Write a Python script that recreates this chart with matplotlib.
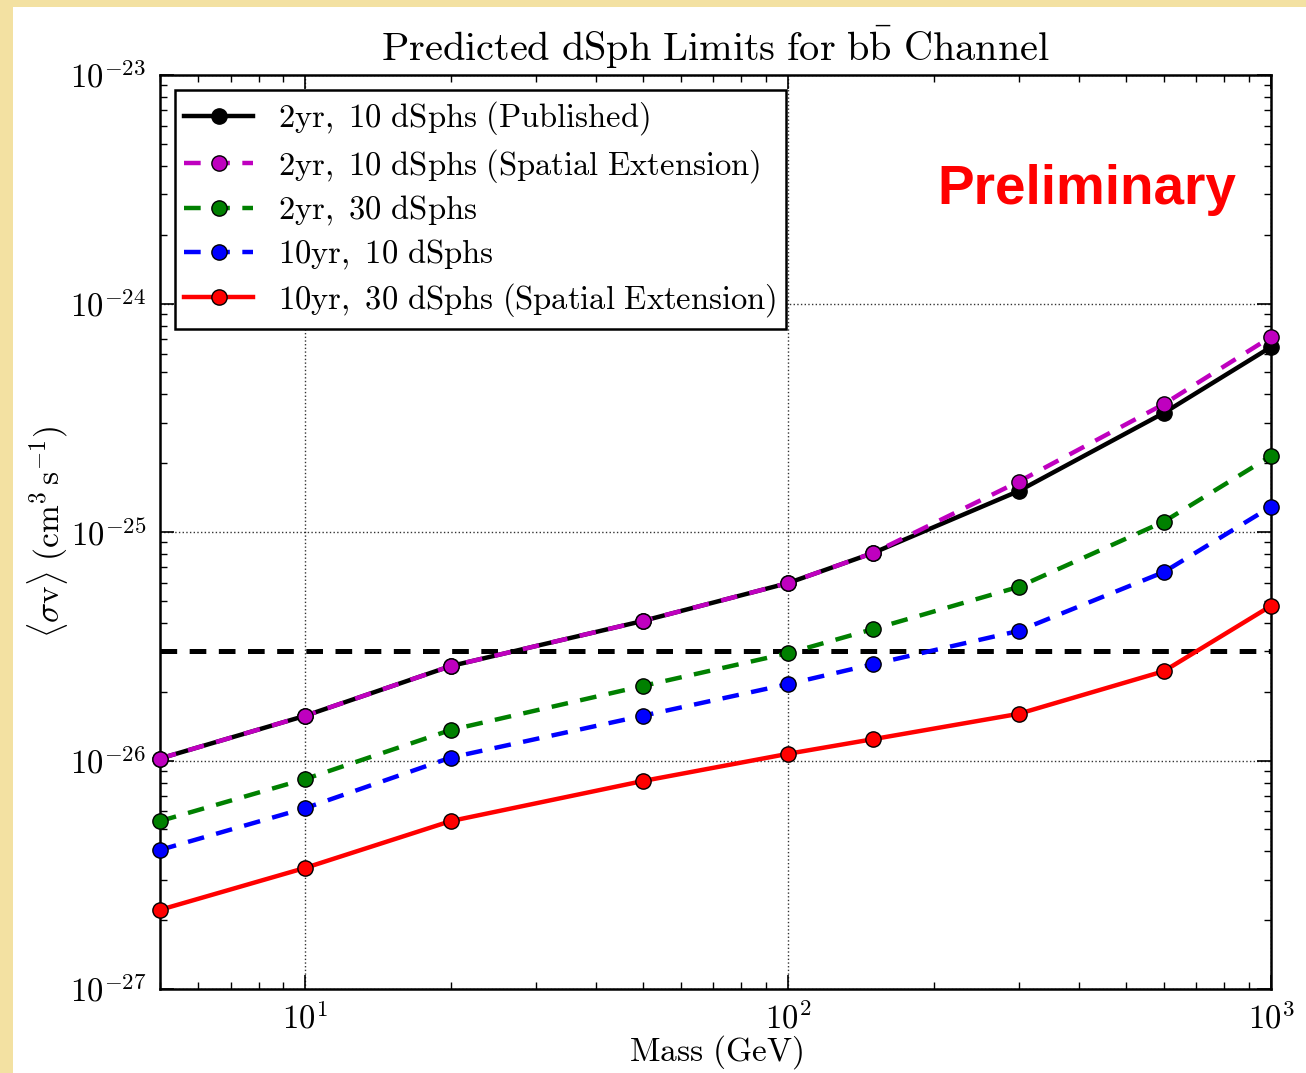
import math
import matplotlib
matplotlib.use("Agg")
import matplotlib.pyplot as plt
from matplotlib.patches import Rectangle
from matplotlib.ticker import LogLocator, FixedLocator, FuncFormatter, NullFormatter

plt.rcParams['mathtext.fontset'] = 'cm'
plt.rcParams['lines.scale_dashes'] = False

# Dark matter mass (GeV)
mass = [5, 10, 20, 50, 100, 150, 300, 600, 1000]

# Predicted <sigma v> upper limits (cm^3 s^-1)
published_2yr_10 = [1.02e-26, 1.57e-26, 2.59e-26, 4.08e-26, 5.98e-26, 8.1e-26, 1.51e-25, 3.32e-25, 6.45e-25]
spatial_2yr_10 = [1.02e-26, 1.57e-26, 2.59e-26, 4.08e-26, 5.98e-26, 8.1e-26, 1.66e-25, 3.63e-25, 7.14e-25]
limits_2yr_30 = [5.43e-27, 8.3e-27, 1.36e-26, 2.12e-26, 2.95e-26, 3.76e-26, 5.75e-26, 1.11e-25, 2.15e-25]
limits_10yr_10 = [4.06e-27, 6.19e-27, 1.03e-26, 1.57e-26, 2.16e-26, 2.64e-26, 3.69e-26, 6.68e-26, 1.29e-25]
spatial_10yr_30 = [2.22e-27, 3.39e-27, 5.43e-27, 8.13e-27, 1.07e-26, 1.24e-26, 1.6e-26, 2.46e-26, 4.75e-26]

thermal_relic = 3e-26

# major tick positions
x_ticks = [10, 100, 1000]
y_ticks = [1e-27, 1e-26, 1e-25, 1e-24, 1e-23]

series = [
    (published_2yr_10, 'k', '-', r'$\mathrm{2yr,\ 10\ dSphs\ (Published)}$'),
    (spatial_2yr_10, 'm', '--', r'$\mathrm{2yr,\ 10\ dSphs\ (Spatial\ Extension)}$'),
    (limits_2yr_30, 'g', '--', r'$\mathrm{2yr,\ 30\ dSphs}$'),
    (limits_10yr_10, 'b', '--', r'$\mathrm{10yr,\ 10\ dSphs}$'),
    (spatial_10yr_30, 'r', '-', r'$\mathrm{10yr,\ 30\ dSphs\ (Spatial\ Extension)}$'),
]

fig = plt.figure(figsize=(13.06, 10.73), dpi=100, facecolor='white')

# parchment border strips
border = '#f3e1a2'
fig.patches.append(Rectangle((0, 0), 13 / 1306, 1, transform=fig.transFigure,
                             facecolor=border, edgecolor='none', zorder=-10))
fig.patches.append(Rectangle((0, 1 - 7 / 1073), 1, 7 / 1073, transform=fig.transFigure,
                             facecolor=border, edgecolor='none', zorder=-10))

ax = fig.add_axes([160 / 1306, 1 - 989 / 1073, (1271 - 160) / 1306, (989 - 75) / 1073])

ax.axhline(thermal_relic, color='k', lw=3.6, dashes=(12, 9), zorder=2)

for vals, col, ls, lab in series:
    kw = dict(dashes=(12, 9)) if ls == '--' else {}
    ax.plot(mass, vals, color=col, lw=3.2, ls=ls, marker='o', markersize=11,
            markerfacecolor=col, markeredgecolor='k', markeredgewidth=1.0,
            label=lab, zorder=3, clip_on=False, **kw)

ax.set_xscale('log')
ax.set_yscale('log')
ax.set_xlim(5, 1000)
ax.set_ylim(1e-27, 1e-23)

fmt = FuncFormatter(lambda v, p: r'$\mathrm{10^{%d}}$' % round(math.log10(v)))
ax.xaxis.set_major_locator(FixedLocator(x_ticks))
ax.yaxis.set_major_locator(FixedLocator(y_ticks))
ax.xaxis.set_minor_locator(LogLocator(base=10, subs=range(2, 10), numticks=20))
ax.yaxis.set_minor_locator(LogLocator(base=10, subs=range(2, 10), numticks=20))
ax.xaxis.set_major_formatter(fmt)
ax.yaxis.set_major_formatter(fmt)
ax.xaxis.set_minor_formatter(NullFormatter())
ax.yaxis.set_minor_formatter(NullFormatter())

ax.tick_params(which='both', direction='in', top=True, right=True, labelsize=23.5)
ax.tick_params(which='major', length=10, width=1.2, pad=10)
ax.tick_params(which='minor', length=5, width=1.0, labelleft=False, labelbottom=False)
for s in ax.spines.values():
    s.set_linewidth(1.8)

ax.grid(True, which='major', color='k', ls=':', lw=1.0, alpha=0.8)
ax.set_axisbelow(True)

ax.set_title(r'$\mathrm{Predicted\ dSph\ Limits\ for\ b\bar{b}\ Channel}$', fontsize=29, pad=10)
ax.set_xlabel(r'$\mathrm{Mass\ (GeV)}$', fontsize=24, labelpad=-2)
ax.set_ylabel(r'$\langle\sigma \mathrm{v}\rangle\ (\mathrm{cm^3\,s^{-1}})$', fontsize=24, labelpad=0)

leg = ax.legend(loc='upper left', fontsize=23.5, fancybox=False, framealpha=1,
                edgecolor='k', handlelength=2.1, borderpad=0.3, labelspacing=0.28,
                handletextpad=0.75, borderaxespad=0.45)
leg.get_frame().set_linewidth(1.8)

ax.text((1087 - 160) / 1111, (989 - 190) / 914, 'Preliminary', transform=ax.transAxes,
        fontsize=39.5, fontweight='bold', color='red', family='Liberation Sans',
        ha='center', va='center')

fig.savefig('out.png', dpi=100, facecolor=fig.get_facecolor())
